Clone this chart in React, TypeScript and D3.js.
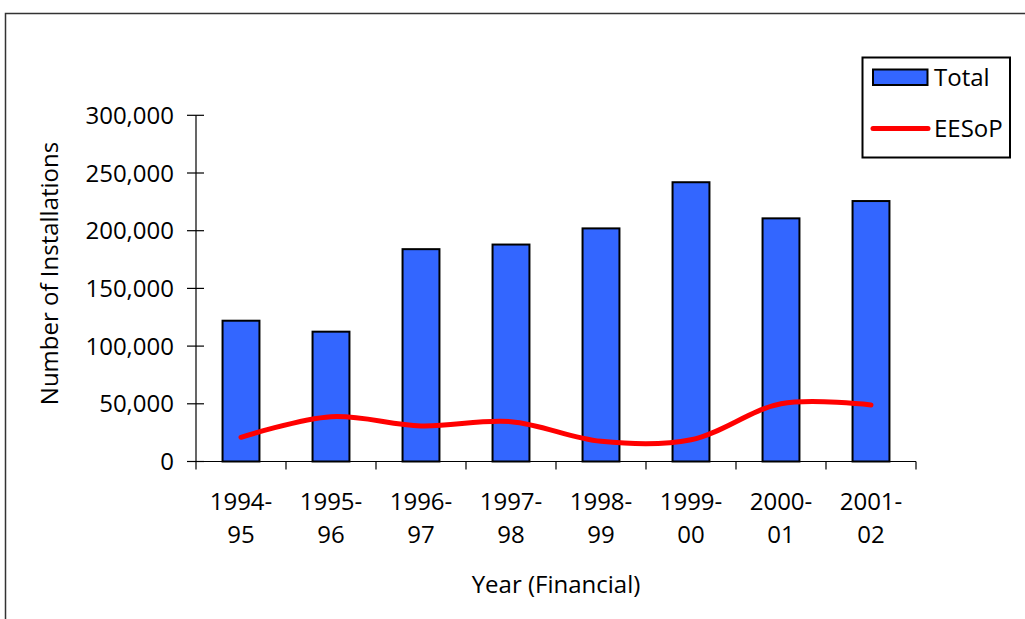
import React from "react";
import * as d3 from "d3";

// Financial years on the x axis (two-line labels)
const years = ["1994-95", "1995-96", "1996-97", "1997-98", "1998-99", "1999-00", "2000-01", "2001-02"];
// Total installations per year (bars)
const totalInstalls = [122000, 112500, 184000, 188000, 202000, 242000, 210700, 225700];
// EESoP installations per year (smoothed line)
const eesopInstalls = [21000, 38800, 30800, 34500, 17500, 18800, 50000, 49000];
// Y axis ticks
const yTicks = [0, 50000, 100000, 150000, 200000, 250000, 300000];

const W = 1025;
const H = 619;
const FONT = "'Open Sans', Lato, sans-serif";
const FS = 24;

export default function App() {
  const left = 196;
  const right = 916;
  const top = 115.3;
  const bottom = 461.5;

  const x = d3.scaleBand<string>().domain(years).range([left, right]).paddingInner(0.59).paddingOuter(0.295);
  const xc = d3.scaleBand<string>().domain(years).range([left, right]);
  const y = d3.scaleLinear().domain([0, 300000]).range([bottom, top]);
  const fmt = d3.format(",");

  const line = d3
    .line<number>()
    .x((_, i) => (xc(years[i]) as number) + xc.bandwidth() / 2)
    .y((d) => y(d))
    .curve(d3.curveCatmullRom.alpha(0.5));

  return (
    <svg width={W} height={H} style={{ display: "block", position: "absolute", left: 0, top: 0 }} fontFamily={FONT}>
      <rect x={0} y={0} width={W} height={H} fill="#fff" />
      {/* outer frame */}
      <path d={`M5.5,${H + 5} V13.5 H${W + 5}`} fill="none" stroke="#333" strokeWidth={1.5} />

      {/* bars */}
      {totalInstalls.map((v, i) => (
        <rect
          key={years[i]}
          x={x(years[i])}
          y={y(v)}
          width={x.bandwidth()}
          height={bottom - y(v)}
          fill="#3366ff"
          stroke="#000"
          strokeWidth={2}
        />
      ))}

      {/* y axis */}
      <line x1={left} x2={left} y1={top} y2={bottom + 8} stroke="#000" strokeWidth={1.2} />
      {yTicks.map((t) => (
        <g key={t}>
          <line x1={left - 9} x2={left + 8} y1={y(t)} y2={y(t)} stroke="#000" strokeWidth={1.2} />
          <text x={174} y={y(t) + 8.5} textAnchor="end" fontSize={FS} fill="#000">
            {fmt(t)}
          </text>
        </g>
      ))}

      {/* x axis */}
      <line x1={left} x2={right} y1={bottom} y2={bottom} stroke="#000" strokeWidth={1.2} />
      {years.map((yr) => (
        <line
          key={"t" + yr}
          x1={(xc(yr) as number) + xc.bandwidth()}
          x2={(xc(yr) as number) + xc.bandwidth()}
          y1={bottom}
          y2={bottom + 8}
          stroke="#000"
          strokeWidth={1.2}
        />
      ))}
      {years.map((yr) => {
        const [a, b] = yr.split("-");
        const cx = (xc(yr) as number) + xc.bandwidth() / 2;
        return (
          <text key={"l" + yr} x={cx} textAnchor="middle" fontSize={FS} fill="#000">
            <tspan x={cx} y={510}>{a + "-"}</tspan>
            <tspan x={cx} y={543}>{b}</tspan>
          </text>
        );
      })}

      {/* EESoP line */}
      <path d={line(eesopInstalls) || ""} fill="none" stroke="#ff0000" strokeWidth={5} strokeLinecap="round" />

      {/* axis titles */}
      <text x={556} y={593} textAnchor="middle" fontSize={FS} fill="#000">
        Year (Financial)
      </text>
      <text transform="translate(58,273.5) rotate(-90)" textAnchor="middle" fontSize={FS} fill="#000">
        Number of Installations
      </text>

      {/* legend */}
      <rect x={862.5} y={57.5} width={147.5} height={100} fill="#fff" stroke="#000" strokeWidth={2} />
      <rect x={873} y={69.5} width={54.5} height={15.5} fill="#3366ff" stroke="#000" strokeWidth={2} />
      <text x={934} y={86} fontSize={FS} fill="#000">Total</text>
      <line x1={873} x2={928} y1={128.5} y2={128.5} stroke="#ff0000" strokeWidth={5} strokeLinecap="round" />
      <text x={934} y={137} fontSize={FS} fill="#000">EESoP</text>
    </svg>
  );
}
